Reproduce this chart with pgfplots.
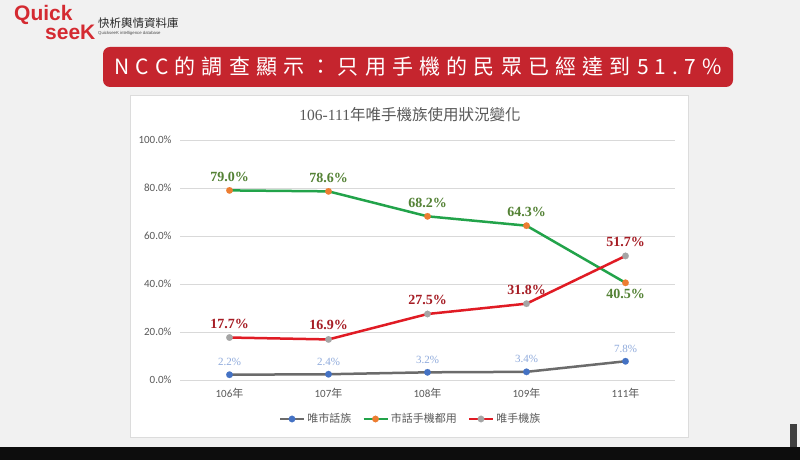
\documentclass[border=0pt]{standalone}
\usepackage{pgfplots}
\pgfplotsset{compat=1.18}
\usepackage{fontspec}
\setmainfont{Carlito}
\newfontfamily\cjk{Noto Sans CJK TC}
\newfontfamily\tnr{Liberation Serif}
\newfontfamily\arialb{Liberation Sans}
\definecolor{bgc}{HTML}{F1F1F1}
\definecolor{bannerc}{HTML}{C5252E}
\definecolor{logored}{HTML}{D42A31}
\definecolor{boxc}{HTML}{DCDCDC}
\definecolor{gridc}{HTML}{D9D9D9}
\definecolor{tickc}{HTML}{595959}
\definecolor{titlec}{HTML}{595959}
\definecolor{lgray}{HTML}{6B6B6B}
\definecolor{lgreen}{HTML}{22A34A}
\definecolor{lred}{HTML}{E01B24}
\definecolor{mblue}{HTML}{4472C4}
\definecolor{morange}{HTML}{ED7D31}
\definecolor{mgray}{HTML}{A5A5A5}
\definecolor{greenlab}{HTML}{548235}
\definecolor{redlab}{HTML}{A61C24}
\definecolor{bluelab}{HTML}{8FAADC}
\makeatletter
\newcommand\spaced[2]{\@tfor\sp@c:=#2\do{\sp@c\kern#1}\unkern}
\makeatother
\begin{document}
\begin{tikzpicture}[x=1pt,y=1pt]
\useasboundingbox (0,0) rectangle (800,460);
\fill[bgc] (0,0) rectangle (800,460);
\fill[black!95] (0,0) rectangle (800,13);
\fill[black!75] (790,13) rectangle (797,36);
% logo
\node[anchor=base west, inner sep=0, text=logored, align=left, font=\arialb\bfseries\fontsize{21}{12}\selectfont] at (14,420) {Quick\\\hspace*{31pt}seeK};
\node[anchor=west, inner sep=0, font=\cjk\fontsize{11.5}{12}\selectfont, text=black!85] at (98,437) {快析輿情資料庫};
\node[anchor=west, inner sep=0, font=\arialb\fontsize{4.3}{5}\selectfont, text=black!70] at (98,427) {QuickseeK intelligence database};
% banner
\fill[bannerc, rounded corners=7pt] (103,373) rectangle (733,413);
\node[text=white, font=\cjk\fontsize{21}{24}\selectfont, inner sep=0] at (418,393) {\spaced{6.2pt}{NCC的調查顯示：只用手機的民眾已經達到51.7\%}};
% chart box
\filldraw[fill=white, draw=boxc, line width=0.8pt] (130,23) rectangle (688,365);
\node[text=titlec, font=\fontsize{15.5}{18}\selectfont] at (410,345) {{\tnr 106-111}{\cjk 年唯手機族使用狀況變化}};
\begin{axis}[
  at={(180pt,80pt)}, anchor=south west, scale only axis,
  width=495pt, height=240pt,
  xmin=-0.5, xmax=4.5, ymin=0, ymax=100,
  axis line style={draw=none}, major tick style={draw=none},
  ymajorgrids, grid style={color=gridc, line width=0.8pt},
  xtick={0,1,2,3,4},
  xticklabels={{106{\cjk 年}},{107{\cjk 年}},{108{\cjk 年}},{109{\cjk 年}},{111{\cjk 年}}},
  ytick={0,20,40,60,80,100},
  yticklabel={\pgfmathprintnumber[fixed,fixed zerofill,precision=1]{\tick}\%},
  /pgf/number format/assume math mode=true,
  ticklabel style={font=\fontsize{11}{12}\selectfont, text=tickc},
  yticklabel style={xshift=-5pt},
  xticklabel style={yshift=-5pt},
  clip=false,
  legend columns=3,
  legend style={at={(0.4657,-0.1625)}, anchor=center, draw=none, fill=none,
    font=\cjk\fontsize{11}{13}\selectfont, text=tickc,
    /tikz/every even column/.append style={column sep=9pt}},
  legend image code/.code={\draw[mark repeat=2,mark phase=2,#1] plot coordinates {(0pt,0pt) (12pt,0pt) (24pt,0pt)};},
]
\addplot[color=lgray, line width=2.5pt, mark=*, mark size=3.3pt, mark options={fill=mblue, draw=mblue, line width=0.1pt}]
  coordinates {(0,2.2) (1,2.4) (2,3.2) (3,3.4) (4,7.8)};
\addlegendentry{唯市話族}
\addplot[color=lgreen, line width=2.5pt, mark=*, mark size=3.3pt, mark options={fill=morange, draw=morange, line width=0.1pt}]
  coordinates {(0,79.0) (1,78.6) (2,68.2) (3,64.3) (4,40.5)};
\addlegendentry{市話手機都用}
\addplot[color=lred, line width=2.5pt, mark=*, mark size=3.3pt, mark options={fill=mgray, draw=mgray, line width=0.1pt}]
  coordinates {(0,17.7) (1,16.9) (2,27.5) (3,31.8) (4,51.7)};
\addlegendentry{唯手機族}
% labels
\addplot[draw=none, mark=none, forget plot,
  nodes near coords={\pgfmathprintnumber[fixed,fixed zerofill,precision=1]{\pgfplotspointmeta}\%},
  every node near coord/.append style={font=\tnr\fontsize{11}{13}\selectfont, text=bluelab, anchor=center, inner sep=0pt, yshift=12.8pt}]
  coordinates {(0,2.2) (1,2.4) (2,3.2) (3,3.4) (4,7.8)};
\addplot[draw=none, mark=none, forget plot,
  nodes near coords={\pgfmathprintnumber[fixed,fixed zerofill,precision=1]{\pgfplotspointmeta}\%},
  every node near coord/.append style={font=\tnr\bfseries\fontsize{14}{16}\selectfont, text=greenlab, anchor=center, inner sep=0pt, yshift=13.8pt}]
  coordinates {(0,79.0) (1,78.6) (2,68.2) (3,64.3)};
\addplot[draw=none, mark=none, forget plot,
  nodes near coords={\pgfmathprintnumber[fixed,fixed zerofill,precision=1]{\pgfplotspointmeta}\%},
  every node near coord/.append style={font=\tnr\bfseries\fontsize{14}{16}\selectfont, text=greenlab, anchor=center, inner sep=0pt, yshift=-11.5pt}]
  coordinates {(4,40.5)};
\addplot[draw=none, mark=none, forget plot,
  nodes near coords={\pgfmathprintnumber[fixed,fixed zerofill,precision=1]{\pgfplotspointmeta}\%},
  every node near coord/.append style={font=\tnr\bfseries\fontsize{14}{16}\selectfont, text=redlab, anchor=center, inner sep=0pt, yshift=14pt}]
  coordinates {(0,17.7) (1,16.9) (2,27.5) (3,31.8) (4,51.7)};
\end{axis}
\end{tikzpicture}
\end{document}
